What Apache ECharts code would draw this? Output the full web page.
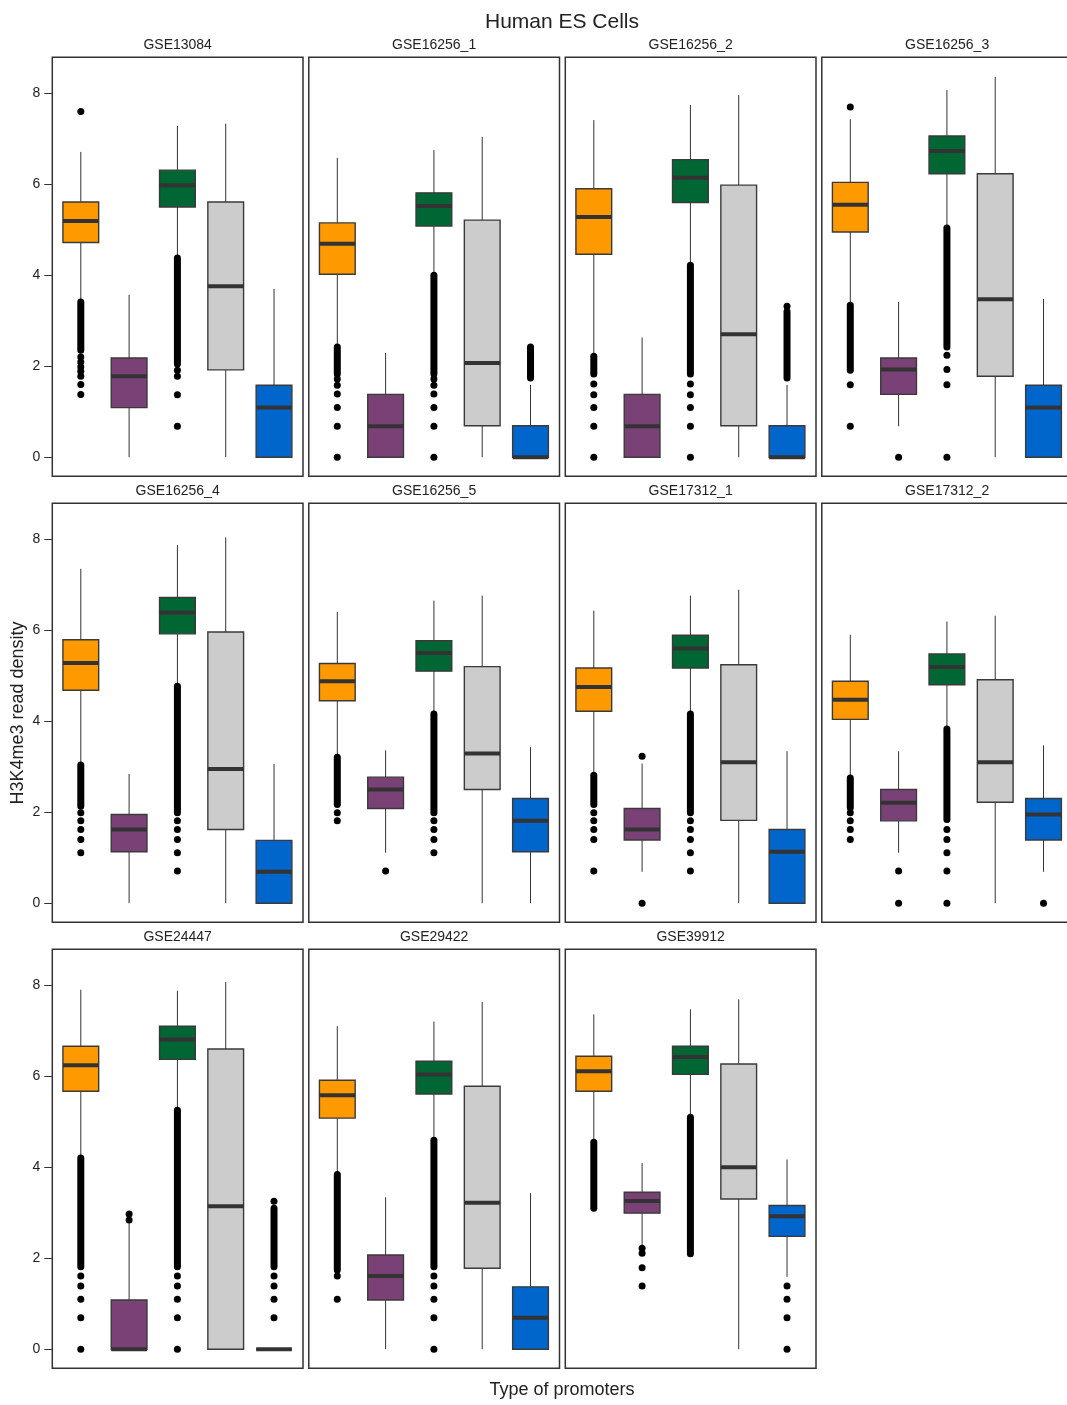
<!DOCTYPE html>
<html>
<head>
<meta charset="utf-8">
<title>Human ES Cells</title>
<script src="https://cdn.jsdelivr.net/npm/echarts@6/dist/echarts.min.js"></script>
<style>
  html, body { margin: 0; padding: 0; background: #fff; }
  #chart { width: 1067px; height: 1405px; }
</style>
</head>
<body>
<div id="chart"></div>
<script>
// Datasets, one panel each (row by row)
const panelNames = ['GSE13084', 'GSE16256_1', 'GSE16256_2', 'GSE16256_3',
                    'GSE16256_4', 'GSE16256_5', 'GSE17312_1', 'GSE17312_2',
                    'GSE24447', 'GSE29422', 'GSE39912'];

// Five promoter types per panel, in plotting order
const promoterTypes = [1, 2, 3, 4, 5];
const typeColors = ['#FF9900', '#7A4177', '#006633', '#CCCCCC', '#0066CC'];

const yTicks = [0, 2, 4, 6, 8];

// Box statistics per panel: one value per promoter type
const lowWhisker = [
  [3.41, 0,    4.40, 0,    0   ],
  [2.46, 0,    4.03, 0,    0   ],
  [2.24, 0,    4.25, 0,    0   ],
  [3.36, 0.68, 5.06, 0,    0   ],
  [3.06, 0,    4.79, 0,    0   ],
  [3.23, 1.11, 4.18, 0,    0   ],
  [2.83, 0.69, 4.18, 0,    0   ],
  [2.77, 1.11, 3.85, 0,    0.69],
  [4.22, 0,    5.27, 0,    0   ],
  [3.86, 0,    4.61, 0,    0   ],
  [4.57, 2.29, 5.12, 0,    1.59]
];
const lowerQuartile = [
  [4.72, 1.09, 5.50, 1.92, 0   ],
  [4.02, 0,    5.08, 0.69, 0   ],
  [4.46, 0,    5.60, 0.69, 0   ],
  [4.95, 1.38, 6.23, 1.78, 0   ],
  [4.68, 1.13, 5.92, 1.62, 0   ],
  [4.45, 2.08, 5.10, 2.50, 1.13],
  [4.22, 1.39, 5.17, 1.82, 0   ],
  [4.04, 1.81, 4.80, 2.22, 1.39],
  [5.67, 0,    6.37, 0,    0   ],
  [5.08, 1.08, 5.61, 1.78, 0   ],
  [5.67, 2.99, 6.04, 3.30, 2.48]
];
const medianValue = [
  [5.19, 1.78, 5.98, 3.76, 1.09],
  [4.69, 0.68, 5.52, 2.07, 0   ],
  [5.28, 0.68, 6.14, 2.70, 0   ],
  [5.55, 1.93, 6.73, 3.47, 1.09],
  [5.28, 1.62, 6.39, 2.95, 0.69],
  [4.88, 2.50, 5.50, 3.29, 1.81],
  [4.75, 1.62, 5.60, 3.10, 1.13],
  [4.47, 2.21, 5.19, 3.10, 1.95],
  [6.24, 0,    6.81, 3.14, 0   ],
  [5.58, 1.61, 6.04, 3.22, 0.69],
  [6.11, 3.26, 6.42, 4.00, 2.92]
];
const upperQuartile = [
  [5.61, 2.18, 6.31, 5.61, 1.58],
  [5.15, 1.38, 5.81, 5.21, 0.69],
  [5.90, 1.38, 6.54, 5.98, 0.69],
  [6.04, 2.18, 7.06, 6.23, 1.58],
  [5.79, 1.95, 6.72, 5.96, 1.38],
  [5.27, 2.77, 5.77, 5.20, 2.30],
  [5.17, 2.08, 5.89, 5.24, 1.62],
  [4.88, 2.50, 5.48, 4.91, 2.30],
  [6.66, 1.08, 7.10, 6.60, 0   ],
  [5.91, 2.07, 6.33, 5.78, 1.37],
  [6.44, 3.45, 6.66, 6.27, 3.16]
];
const highWhisker = [
  [6.71, 3.57, 7.28, 7.33, 3.70],
  [6.58, 2.29, 6.75, 7.04, 1.59],
  [7.41, 2.63, 7.74, 7.96, 1.59],
  [7.43, 3.41, 8.07, 8.36, 3.48],
  [7.35, 2.84, 7.87, 8.04, 3.06],
  [6.40, 3.36, 6.65, 6.76, 3.43],
  [6.43, 3.07, 6.76, 6.89, 3.34],
  [5.90, 3.34, 6.19, 6.32, 3.47],
  [7.90, 2.77, 7.88, 8.07, 0   ],
  [7.10, 3.34, 7.20, 7.63, 3.43],
  [7.36, 4.09, 7.47, 7.69, 4.17]
];

// Stretches where outliers sit so close together they merge: [from, to]
const outlierRuns = [
  [[[2.35, 3.41]], [], [[2.05, 4.38]], [], []],
  [[[1.83, 2.42]], [], [[1.83, 4.00]], [], [[1.74, 2.42]]],
  [[[1.83, 2.22]], [], [[1.83, 4.22]], [], [[1.74, 3.20]]],
  [[[1.91, 3.34]], [], [[2.42, 5.04]], [], []],
  [[[2.13, 3.04]], [], [[1.99, 4.77]], [], []],
  [[[2.17, 3.21]], [], [[1.99, 4.16]], [], []],
  [[[2.17, 2.81]], [], [[1.99, 4.16]], [], []],
  [[[2.10, 2.75]], [], [[1.84, 3.83]], [], []],
  [[[1.81, 4.20]], [], [[1.81, 5.25]], [], [[1.81, 3.10]]],
  [[[1.74, 3.84]], [], [[1.81, 4.59]], [], []],
  [[[3.10, 4.55]], [], [[2.10, 5.10]], [], []]
];

// Individual outliers
const outlierPoints = [
  [[7.60, 2.20, 2.09, 1.98, 1.89, 1.78, 1.60, 1.38], [], [1.91, 1.78, 1.37, 0.68], [], []],
  [[1.72, 1.58, 1.39, 1.09, 0.68, 0], [], [1.72, 1.58, 1.39, 1.09, 0.68, 0], [], []],
  [[1.61, 1.37, 1.09, 0.68, 0], [], [1.61, 1.37, 1.09, 0.68, 0], [], [3.32]],
  [[7.70, 1.59, 0.68], [0], [2.24, 1.93, 1.59, 0], [], []],
  [[1.99, 1.81, 1.62, 1.40, 1.11], [], [1.81, 1.62, 1.40, 1.11, 0.71], [], []],
  [[1.99, 1.81], [0.71], [1.81, 1.62, 1.40, 1.11], [], []],
  [[1.99, 1.81, 1.62, 1.40, 0.71], [3.23, 0], [1.81, 1.62, 1.40, 1.11, 0.71], [], []],
  [[1.99, 1.81, 1.62, 1.40], [0.71, 0], [1.62, 1.40, 1.11, 0.71, 0], [], [0]],
  [[1.61, 1.39, 1.10, 0.69, 0], [2.97, 2.84], [1.61, 1.39, 1.10, 0.69, 0], [], [3.25, 1.61, 1.39, 1.10, 0.69]],
  [[1.61, 1.10], [], [1.61, 1.39, 1.10, 0.69, 0], [], []],
  [[], [2.22, 2.11, 1.79, 1.39], [], [], [1.39, 1.10, 0.69, 0]]
];

// ---- layout ----
const FONT = '"Liberation Sans", Arial, Helvetica, sans-serif';
const INK = '#222';
const colLeft = [52.3, 308.8, 565.3, 821.8];
const rowTop = [57.3, 503.3, 949.3];
const panelW = 250.7;
const panelH = 419;
const BOX_WIDTH = 0.74;
const DOT = 7;

function renderBox(params, api) {
  const x = api.value(0);
  const low = api.coord([x, api.value(1)]);
  const q1 = api.coord([x, api.value(2)]);
  const med = api.coord([x, api.value(3)]);
  const q3 = api.coord([x, api.value(4)]);
  const high = api.coord([x, api.value(5)]);
  const hw = api.size([BOX_WIDTH, 0])[0] / 2;
  const cx = low[0];
  const fill = typeColors[x - 1];
  const stroke = { stroke: '#333', lineWidth: 1 };
  return {
    type: 'group',
    children: [
      { type: 'line', shape: { x1: cx, y1: high[1], x2: cx, y2: q3[1] }, style: stroke },
      { type: 'line', shape: { x1: cx, y1: q1[1], x2: cx, y2: low[1] }, style: stroke },
      { type: 'rect', shape: { x: cx - hw, y: q3[1], width: hw * 2, height: q1[1] - q3[1] },
        style: { fill: fill, stroke: '#3a3a3a', lineWidth: 1.4 } },
      { type: 'line', shape: { x1: cx - hw, y1: med[1], x2: cx + hw, y2: med[1] },
        style: { stroke: '#333', lineWidth: 4 } }
    ]
  };
}

function renderRun(params, api) {
  const x = api.value(0);
  const a = api.coord([x, api.value(1)]);
  const b = api.coord([x, api.value(2)]);
  return {
    type: 'line',
    shape: { x1: a[0], y1: a[1], x2: b[0], y2: b[1] },
    style: { stroke: '#000', lineWidth: DOT, lineCap: 'round' }
  };
}

const grids = [], xAxes = [], yAxes = [], series = [], graphics = [];

panelNames.forEach(function (name, p) {
  const row = Math.floor(p / 4), col = p % 4;
  const left = colLeft[col], top = rowTop[row];
  grids.push({
    left: left, top: top, width: panelW, height: panelH,
    show: true, borderColor: '#333', borderWidth: 1.5, backgroundColor: 'transparent',
    containLabel: false, outerBoundsMode: 'none'
  });
  xAxes.push({
    type: 'value', gridIndex: p, min: 0.41, max: 5.6, show: false
  });
  const firstCol = col === 0;
  yAxes.push({
    type: 'value', gridIndex: p, min: -0.42, max: 8.79,
    axisLine: { show: false },
    splitLine: { show: false },
    axisTick: { show: firstCol, length: 8, customValues: yTicks,
                lineStyle: { color: '#333', width: 1 } },
    axisLabel: { show: firstCol, customValues: yTicks, margin: 12,
                 fontFamily: FONT, fontSize: 14, color: INK }
  });

  const boxData = promoterTypes.map(function (t, i) {
    return [t, lowWhisker[p][i], lowerQuartile[p][i], medianValue[p][i],
            upperQuartile[p][i], highWhisker[p][i]];
  });
  const runData = [], pointData = [];
  promoterTypes.forEach(function (t, i) {
    outlierRuns[p][i].forEach(function (r) { runData.push([t, r[0], r[1]]); });
    outlierPoints[p][i].forEach(function (v) { pointData.push([t, v]); });
  });

  series.push({
    type: 'custom', xAxisIndex: p, yAxisIndex: p, silent: true,
    renderItem: renderBox, data: boxData, z: 2
  });
  series.push({
    type: 'custom', xAxisIndex: p, yAxisIndex: p, silent: true,
    renderItem: renderRun, data: runData, z: 3
  });
  series.push({
    type: 'scatter', xAxisIndex: p, yAxisIndex: p, silent: true,
    symbol: 'circle', symbolSize: DOT, itemStyle: { color: '#000', opacity: 1 },
    data: pointData, z: 3
  });

  graphics.push({
    type: 'text', x: left + panelW / 2, y: top - 12, silent: true,
    style: { text: name, fill: INK, font: '14px ' + FONT,
             textAlign: 'center', textVerticalAlign: 'middle' }
  });
});

graphics.push({
  type: 'text', x: 562, y: 22, silent: true,
  style: { text: 'Human ES Cells', fill: INK, font: '21px ' + FONT,
           textAlign: 'center', textVerticalAlign: 'middle' }
});
graphics.push({
  type: 'text', x: 562, y: 1390, silent: true,
  style: { text: 'Type of promoters', fill: INK, font: '18px ' + FONT,
           textAlign: 'center', textVerticalAlign: 'middle' }
});
graphics.push({
  type: 'text', x: 18, y: 713, rotation: Math.PI / 2, silent: true,
  style: { text: 'H3K4me3 read density', fill: INK, font: '18px ' + FONT,
           textAlign: 'center', textVerticalAlign: 'middle' }
});

const chart = echarts.init(document.getElementById('chart'), null, { renderer: 'canvas' });
chart.setOption({
  animation: false,
  backgroundColor: '#fff',
  grid: grids,
  xAxis: xAxes,
  yAxis: yAxes,
  series: series,
  graphic: graphics
});
</script>
</body>
</html>
